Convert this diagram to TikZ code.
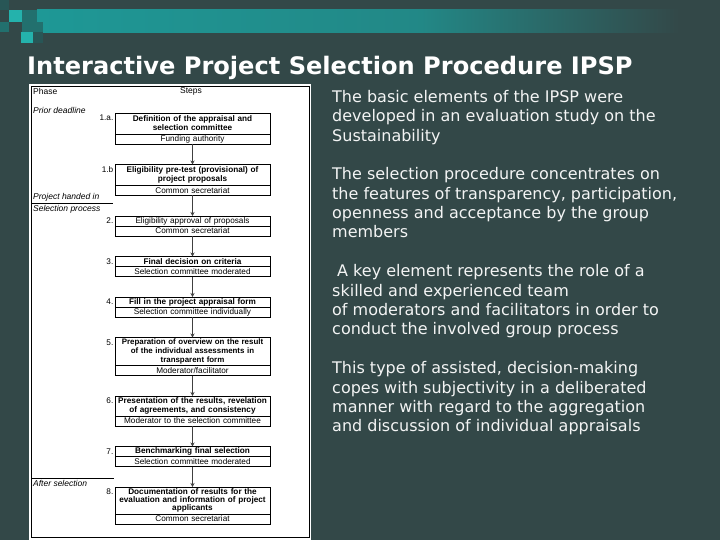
\documentclass[tikz,border=0pt]{standalone}
\usepackage{fontspec}
\usetikzlibrary{positioning, arrows.meta}
\newfontfamily\flowfont{Liberation Sans}
\newfontfamily\slidefont{DejaVu Sans}
\definecolor{slate}{RGB}{51,72,72}
\definecolor{barteal}{RGB}{30,152,150}
\definecolor{sqbright}{RGB}{36,178,172}
\definecolor{sqmid}{RGB}{34,112,110}
\definecolor{sqdark}{RGB}{40,86,86}
\tikzset{
    stepbox/.style={draw, line width=0.6pt, outer sep=0pt, text width=153pt, inner xsep=1pt, inner ysep=0pt, align=center, font=\flowfont\bfseries\fontsize{8.2}{9}\selectfont},
    plainstep/.style={font=\flowfont\fontsize{8.2}{9}\selectfont},
    oneline/.style={minimum height=10pt},
    twoline/.style={minimum height=21pt},
    threeline/.style={minimum height=28pt},
    actorbox/.style={draw, line width=0.6pt, outer sep=0pt, text width=153pt, inner xsep=1pt, inner ysep=0pt, minimum height=10pt, align=center, font=\flowfont\fontsize{8.2}{9}\selectfont},
    numlabel/.style={font=\flowfont\fontsize{8.2}{9}\selectfont, inner sep=1.5pt, anchor=north east, yshift=-0.5pt},
    phase/.style={font=\flowfont\itshape\fontsize{8.5}{9}\selectfont, inner sep=0pt, anchor=west},
    header/.style={font=\flowfont\fontsize{8.5}{9}\selectfont, inner sep=0pt},
    flowarrow/.style={-{Stealth[length=4pt, width=4pt]}, line width=0.8pt, draw=black!75},
    bodytext/.style={text=white!94!slate, align=left, inner sep=0pt, anchor=north west, font=\slidefont\fontsize{16}{19.4}\selectfont}
}

\begin{document}
\begin{tikzpicture}[x=1pt, y=-1pt]
\useasboundingbox (0,0) rectangle (720,540);
\fill[slate] (0,0) rectangle (720,540);
% banner
\shade[left color=barteal, right color=barteal!80!slate] (37,10) rectangle (420,33);
\shade[left color=barteal!80!slate, right color=slate] (420,10) rectangle (680,33);
\fill[sqdark] (0,0) rectangle (9,10);
\fill[sqbright] (9,10) rectangle (22,22);
\fill[sqmid] (22,10) rectangle (37,22);
\fill[sqmid] (0,22) rectangle (9,32);
\fill[sqmid] (22,22) rectangle (43,32);
\fill[sqbright] (21,32) rectangle (33,43);
\fill[sqdark] (33,32) rectangle (43,43);

\node[font=\slidefont\bfseries\fontsize{24.1}{28}\selectfont, text=white, anchor=base west, inner sep=0pt] (title) at (27,75) {Interactive Project Selection Procedure IPSP};

% flow chart panel
\fill[white] (29,84) rectangle (311,540);
\draw[line width=0.6pt] (31,86) rectangle (309,537);
\node[header, anchor=west] (phasehead) at (33,91) {Phase};
\node[header] (stepshead) at (191,91) {Steps};
\node[phase] (prior) at (33,110) {Prior deadline};
\node[phase] (handed) at (33,197) {Project handed in};
\node[phase] (selproc) at (33,209) {Selection process};
\node[phase] (after) at (33,483) {After selection};
\draw[line width=0.6pt] (31,203) -- (113,203);
\draw[line width=0.6pt] (31,478) -- (114,478);

\node[stepbox, twoline, anchor=north, label={[numlabel]north west:1.a.}] (define) at (192.5,113) {Definition of the appraisal and\\selection committee};
\node[actorbox, below=0pt of define] (defineby) {Funding authority};
\node[stepbox, twoline, below=20.5pt of defineby, label={[numlabel]north west:1.b}] (pretest) {Eligibility pre-test (provisional) of\\project proposals};
\node[actorbox, below=0pt of pretest] (pretestby) {Common secretariat};
\node[stepbox, plainstep, oneline, below=20.5pt of pretestby, label={[numlabel]north west:2.}] (approval) {Eligibility approval of proposals};
\node[actorbox, below=0pt of approval] (approvalby) {Common secretariat};
\node[stepbox, oneline, below=20.5pt of approvalby, label={[numlabel]north west:3.}] (criteria) {Final decision on criteria};
\node[actorbox, below=0pt of criteria] (criteriaby) {Selection committee moderated};
\node[stepbox, oneline, below=20.5pt of criteriaby, label={[numlabel]north west:4.}] (appraisal) {Fill in the project appraisal form};
\node[actorbox, below=0pt of appraisal] (appraisalby) {Selection committee individually};
\node[stepbox, threeline, font=\flowfont\bfseries\fontsize{7.9}{9}\selectfont, below=20.5pt of appraisalby, label={[numlabel]north west:5.}] (overview) {Preparation of overview on the result\\of the individual assessments in\\transparent form};
\node[actorbox, below=0pt of overview] (overviewby) {Moderator/facilitator};
\node[stepbox, twoline, minimum height=20pt, below=20.5pt of overviewby, label={[numlabel]north west:6.}] (present) {Presentation of the results, revelation\\of agreements, and consistency};
\node[actorbox, below=0pt of present] (presentby) {Moderator to the selection committee};
\node[stepbox, oneline, below=20.5pt of presentby, label={[numlabel]north west:7.}] (bench) {Benchmarking final selection};
\node[actorbox, below=0pt of bench] (benchby) {Selection committee moderated};
\node[stepbox, minimum height=27pt, inner ysep=1.5pt, font=\flowfont\bfseries\fontsize{8.2}{7.9}\selectfont, below=20.5pt of benchby, label={[numlabel]north west:8.}] (docu) {Documentation of results for the\\evaluation and information of project\\applicants};
\node[actorbox, below=0pt of docu] (docuby) {Common secretariat};

\draw[flowarrow] (defineby) -- (pretest);
\draw[flowarrow] (pretestby) -- (approval);
\draw[flowarrow] (approvalby) -- (criteria);
\draw[flowarrow] (criteriaby) -- (appraisal);
\draw[flowarrow] (appraisalby) -- (overview);
\draw[flowarrow] (overviewby) -- (present);
\draw[flowarrow] (presentby) -- (bench);
\draw[flowarrow] (benchby) -- (docu);

% slide text
\node[bodytext] (basics) at (332,90) {The basic elements of the IPSP were\\developed in an evaluation study on the\\Sustainability};
\node[bodytext] (features) at (332,167.4) {The selection procedure concentrates on\\the features of transparency, participation,\\openness and acceptance by the group\\members};
\node[bodytext] (team) at (332,264.4) {\hspace{5pt}A key element represents the role of a\\skilled and experienced team\\of moderators and facilitators in order to\\conduct the involved group process};
\node[bodytext] (assisted) at (332,361.4) {This type of assisted, decision-making\\copes with subjectivity in a deliberated\\manner with regard to the aggregation\\and discussion of individual appraisals};
\end{tikzpicture}
\end{document}
